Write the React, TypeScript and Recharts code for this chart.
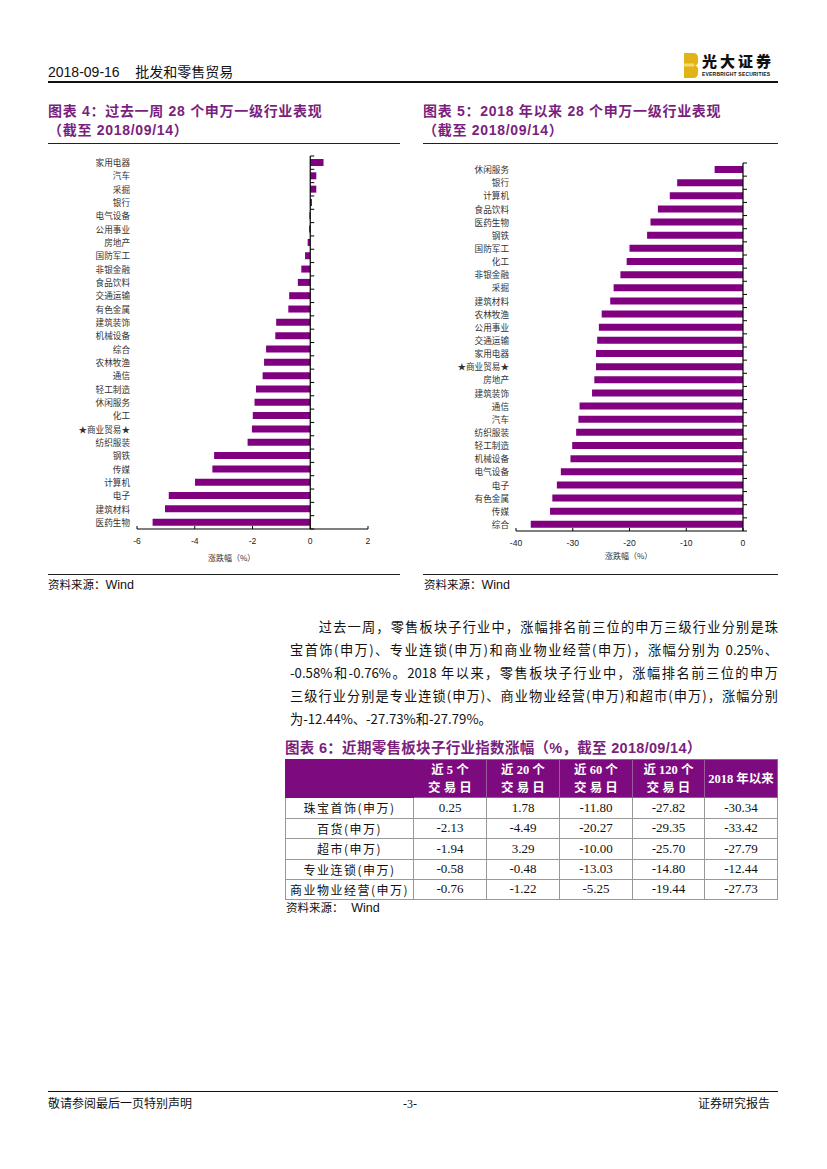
import { Bar, BarChart, ReferenceLine, XAxis, YAxis } from "recharts";

const WEEK_CATEGORIES = [
  "家用电器", "汽车", "采掘", "银行", "电气设备", "公用事业", "房地产",
  "国防军工", "非银金融", "食品饮料", "交通运输", "有色金属", "建筑装饰", "机械设备",
  "综合", "农林牧渔", "通信", "轻工制造", "休闲服务", "化工", "★商业贸易★",
  "纺织服装", "钢铁", "传媒", "计算机", "电子", "建筑材料", "医药生物",
];
const WEEK_VALUES = [
  0.46, 0.21, 0.21, 0.06, -0.03, -0.04, -0.09,
  -0.18, -0.31, -0.43, -0.73, -0.76, -1.18, -1.21,
  -1.53, -1.6, -1.65, -1.88, -1.93, -1.99, -2.02,
  -2.17, -3.33, -3.39, -3.99, -4.9, -5.03, -5.46,
];
const WEEK_TICKS = [-6, -4, -2, 0, 2];

const YTD_CATEGORIES = [
  "休闲服务", "银行", "计算机", "食品饮料", "医药生物", "钢铁", "国防军工",
  "化工", "非银金融", "采掘", "建筑材料", "农林牧渔", "公用事业", "交通运输",
  "家用电器", "★商业贸易★", "房地产", "建筑装饰", "通信", "汽车", "纺织服装",
  "轻工制造", "机械设备", "电气设备", "电子", "有色金属", "传媒", "综合",
];
const YTD_VALUES = [
  -5.0, -11.6, -12.9, -15.0, -16.3, -16.9, -20.0,
  -20.5, -21.6, -22.8, -23.4, -24.9, -25.4, -25.7,
  -25.9, -25.9, -26.2, -26.6, -28.8, -29.0, -29.4,
  -30.1, -30.4, -32.1, -32.8, -33.6, -34.0, -37.4,
];
const YTD_TICKS = [-40, -30, -20, -10, 0];

const TABLE_HEAD = ["近 5 个\n交 易 日", "近 20 个\n交 易 日", "近 60 个\n交 易 日", "近 120 个\n交 易 日", "2018 年以来"];
const TABLE_ROWS = ["珠宝首饰(申万)", "百货(申万)", "超市(申万)", "专业连锁(申万)", "商业物业经营(申万)"];
const CHG_5D = [0.25, -2.13, -1.94, -0.58, -0.76];
const CHG_20D = [1.78, -4.49, 3.29, -0.48, -1.22];
const CHG_60D = [-11.8, -20.27, -10.0, -13.03, -5.25];
const CHG_120D = [-27.82, -29.35, -25.7, -14.8, -19.44];
const CHG_YTD = [-30.34, -33.42, -27.79, -12.44, -27.73];

const PURPLE = "#800080";
const TITLE_PURPLE = "#7a1f7e";
const CJK = '"Noto Sans CJK SC", sans-serif';
const ARIAL = '"Liberation Sans", Arial, "Noto Sans CJK SC", sans-serif';
const NARROW = '"Liberation Sans Narrow", "Liberation Sans", "Noto Sans CJK SC", sans-serif';
const SERIF = '"Liberation Serif", "Noto Sans CJK SC", serif';

const weekData = WEEK_CATEGORIES.map((name, i) => ({ name, value: WEEK_VALUES[i] }));
const ytdData = YTD_CATEGORIES.map((name, i) => ({ name, value: YTD_VALUES[i] }));

// vertical zero axis with small ticks at band edges
function zeroAxis(n: number) {
  return (p: any) => {
    const { x1, y1, x2, y2 } = p;
    const marks = [];
    for (let i = 0; i <= n; i++) {
      const y = y1 + ((y2 - y1) * i) / n;
      marks.push(<line key={i} x1={x1} x2={x1 + 4} y1={y} y2={y} stroke="#000" strokeWidth={1} />);
    }
    return (
      <g>
        <line x1={x1} y1={y1} x2={x2} y2={y2} stroke="#000" strokeWidth={1.2} />
        {marks}
      </g>
    );
  };
}

function catTick(p: any) {
  return (
    <text x={p.x} y={p.y} dy={3.5} textAnchor="end" fontSize={8.6} fill="#333" fontFamily={CJK}>
      {p.payload.value}
    </text>
  );
}

function numTick(p: any) {
  return (
    <g>
      <line x1={p.x} x2={p.x} y1={p.y - 3} y2={p.y} stroke="#000" />
      <text x={p.x} y={p.y} dy={15} textAnchor="middle" fontSize={8.6} fill="#222" fontFamily={ARIAL}>
        {p.payload.value}
      </text>
    </g>
  );
}

function IndustryChart(props: {
  data: { name: string; value: number }[];
  domain: [number, number];
  ticks: number[];
  yWidth: number;
  margin: { top: number; right: number; bottom: number; left: number };
}) {
  return (
    <BarChart width={340} height={420} data={props.data} layout="vertical" margin={props.margin}>
      <XAxis
        type="number"
        domain={props.domain}
        ticks={props.ticks}
        interval={0}
        height={30}
        tickSize={0}
        tickMargin={0}
        tickLine={false}
        axisLine={{ stroke: "#000", strokeWidth: 1.2 }}
        tick={numTick}
      />
      <YAxis
        type="category"
        dataKey="name"
        width={props.yWidth}
        interval={0}
        axisLine={false}
        tickLine={false}
        tickSize={5}
        tickMargin={2}
        tick={catTick}
      />
      <Bar dataKey="value" fill={PURPLE} barSize={7} isAnimationActive={false} />
      <ReferenceLine x={0} shape={zeroAxis(props.data.length)} />
    </BarChart>
  );
}

function Txt(props: { left: number; top: number; width?: number; lh: number; size: number; style?: any; children: any }) {
  return (
    <div
      style={{
        position: "absolute",
        left: props.left,
        top: props.top,
        width: props.width,
        lineHeight: props.lh + "px",
        fontSize: props.size,
        whiteSpace: "nowrap",
        ...props.style,
      }}
    >
      {props.children}
    </div>
  );
}

function Rule(props: { left: number; top: number; width: number; h?: number; color?: string }) {
  return (
    <div
      style={{
        position: "absolute",
        left: props.left,
        top: props.top,
        width: props.width,
        height: props.h ?? 1,
        background: props.color ?? "#222",
      }}
    />
  );
}

const PARA_LINES = [
  "　　过去一周，零售板块子行业中，涨幅排名前三位的申万三级行业分别是珠",
  "宝首饰(申万)、专业连锁(申万)和商业物业经营(申万)，涨幅分别为 0.25%、",
  "-0.58%和-0.76%。2018 年以来，零售板块子行业中，涨幅排名前三位的申万",
  "三级行业分别是专业连锁(申万)、商业物业经营(申万)和超市(申万)，涨幅分别",
  "为-12.44%、-27.73%和-27.79%。",
];

export default function App() {
  const titleStyle = { color: TITLE_PURPLE, fontWeight: 700, fontFamily: NARROW, letterSpacing: 0.7 };
  const colW = [128, 73, 73, 73, 72, 73];
  const rowH = [20.5, 20, 21, 20, 20];
  const cols = [CHG_5D, CHG_20D, CHG_60D, CHG_120D, CHG_YTD];
  const cell = { border: "1px solid #999", padding: 0, textAlign: "center" as const };

  return (
    <div style={{ position: "absolute", left: 0, top: 0, width: 827, height: 1169, background: "#fff", color: "#111", fontFamily: CJK }}>
      {/* header */}
      <Txt left={48} top={63} lh={18} size={14} style={{ fontFamily: NARROW }}>
        2018-09-16&nbsp;&nbsp;&nbsp;&nbsp;批发和零售贸易
      </Txt>
      <svg style={{ position: "absolute", left: 683, top: 53 }} width={16} height={25}>
        <path d="M1 0 H10 Q15 0 15 5 V9 Q15 12 12 12.5 Q15 13 15 16 V20 Q15 25 10 25 H1 Z" fill="#e2b315" />
        <rect x={1} y={10.5} width={10} height={3} fill="#f5d978" />
      </svg>
      <Txt left={702} top={52} lh={20} size={15} style={{ fontWeight: 900, letterSpacing: 3, fontFamily: SERIF }}>
        光大证券
      </Txt>
      <Txt left={702} top={70} lh={8} size={5} style={{ fontWeight: 700, fontFamily: ARIAL, letterSpacing: 0.2 }}>
        EVERBRIGHT SECURITIES
      </Txt>
      <Rule left={48} top={81} width={730} h={1.6} color="#111" />

      {/* chart titles */}
      <Txt left={48} top={102} lh={19} size={14} style={titleStyle}>
        图表 4：过去一周 28 个申万一级行业表现<br />（截至 2018/09/14）
      </Txt>
      <Txt left={423} top={102} lh={19} size={14} style={titleStyle}>
        图表 5：2018 年以来 28 个申万一级行业表现<br />（截至 2018/09/14）
      </Txt>
      <Rule left={48} top={143} width={352} />
      <Rule left={423} top={143} width={355} />

      {/* charts */}
      <div style={{ position: "absolute", left: 40, top: 150 }}>
        <IndustryChart
          data={weekData}
          domain={[-6, 2]}
          ticks={WEEK_TICKS}
          yWidth={97}
          margin={{ top: 6, right: 12, bottom: 11, left: 0 }}
        />
      </div>
      <div style={{ position: "absolute", left: 420, top: 150 }}>
        <IndustryChart
          data={ytdData}
          domain={[-40, 0]}
          ticks={YTD_TICKS}
          yWidth={96}
          margin={{ top: 13, right: 17, bottom: 9, left: 0 }}
        />
      </div>
      <Txt left={208} top={552} lh={12} size={8} style={{ color: "#333" }}>涨跌幅（%）</Txt>
      <Txt left={605} top={550} lh={12} size={8} style={{ color: "#333" }}>涨跌幅（%）</Txt>

      <Rule left={48} top={574} width={352} />
      <Rule left={423} top={574} width={355} />
      <Txt left={48} top={576} lh={16} size={11.5}>资料来源：<span style={{ fontFamily: ARIAL, fontSize: 12.5 }}>Wind</span></Txt>
      <Txt left={424} top={576} lh={16} size={11.5}>资料来源：<span style={{ fontFamily: ARIAL, fontSize: 12.5 }}>Wind</span></Txt>

      {/* paragraph */}
      <div style={{ position: "absolute", left: 290, top: 615, width: 488, fontSize: 13.2, lineHeight: "23px", color: "#111" }}>
        {PARA_LINES.map((l, i) => (
          <div key={i} style={{ textAlign: "justify", textAlignLast: i < PARA_LINES.length - 1 ? "justify" : "left", whiteSpace: "nowrap" }}>
            {l}
          </div>
        ))}
      </div>

      {/* table */}
      <Txt left={285} top={739} lh={18} size={14.5} style={{ ...titleStyle, letterSpacing: 0.3 }}>
        图表 6：近期零售板块子行业指数涨幅（%，截至 2018/09/14）
      </Txt>
      <table
        style={{
          position: "absolute",
          left: 285,
          top: 759,
          borderCollapse: "collapse",
          tableLayout: "fixed",
          fontSize: 12,
          width: 493,
        }}
      >
        <colgroup>
          {colW.map((w, i) => (
            <col key={i} style={{ width: w }} />
          ))}
        </colgroup>
        <tbody>
          <tr style={{ height: 38, background: "#7d0a7e", color: "#fff", fontWeight: 700 }}>
            <td style={{ ...cell, border: "1px solid #7d0a7e" }}></td>
            {TABLE_HEAD.map((h, i) => (
              <td key={i} style={{ ...cell, borderColor: "#9a5a9c", lineHeight: "18px", whiteSpace: "pre-line", fontFamily: SERIF, fontSize: 12.5 }}>
                {h}
              </td>
            ))}
          </tr>
          {TABLE_ROWS.map((r, ri) => (
            <tr key={r} style={{ height: rowH[ri] }}>
              <td style={{ ...cell, letterSpacing: 1.5 }}>{r}</td>
              {cols.map((c, ci) => (
                <td key={ci} style={{ ...cell, fontFamily: SERIF, fontSize: 13 }}>
                  {c[ri].toFixed(2)}
                </td>
              ))}
            </tr>
          ))}
        </tbody>
      </table>
      <Txt left={286} top={899} lh={16} size={11.5}>
        资料来源：&nbsp;&nbsp;&nbsp;<span style={{ fontFamily: ARIAL, fontSize: 12.5 }}>Wind</span>
      </Txt>

      {/* footer */}
      <Rule left={48} top={1091} width={730} h={1.2} color="#111" />
      <Txt left={48} top={1096} lh={16} size={12} style={{ fontFamily: NARROW }}>敬请参阅最后一页特别声明</Txt>
      <Txt left={403} top={1096} lh={16} size={12} style={{ fontFamily: SERIF }}>-3-</Txt>
      <Txt left={698} top={1096} lh={16} size={12} style={{ fontFamily: NARROW }}>证券研究报告</Txt>
    </div>
  );
}
